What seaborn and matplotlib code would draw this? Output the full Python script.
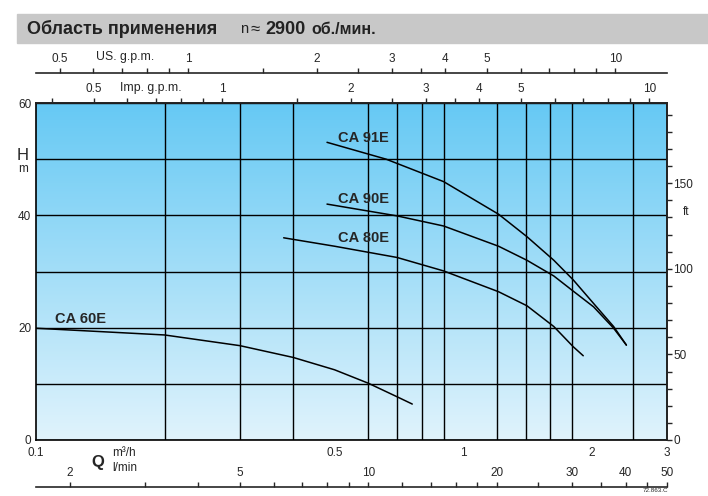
import numpy as np
import pandas as pd
import seaborn as sns
import matplotlib.pyplot as plt
from matplotlib.patches import Rectangle
from matplotlib.colors import LinearSegmentedColormap
from matplotlib.ticker import FixedLocator, NullFormatter, FixedFormatter

# pump curves, Q in m3/h, H in m
q_91 = [0.48, 0.66, 0.90, 1.21, 1.41, 1.63, 1.81, 2.02, 2.25, 2.41]
h_91 = [53.0, 50.0, 46.0, 40.2, 36.2, 32.0, 28.5, 24.3, 20.2, 16.9]
q_90 = [0.48, 0.70, 0.90, 1.21, 1.41, 1.63, 1.81, 2.02, 2.25, 2.41]
h_90 = [42.0, 39.9, 38.1, 34.5, 32.0, 29.2, 26.5, 23.7, 19.9, 16.9]
q_80 = [0.38, 0.50, 0.70, 0.90, 1.21, 1.41, 1.63, 1.81, 1.91]
h_80 = [36.0, 34.5, 32.5, 30.1, 26.4, 23.9, 20.2, 16.6, 15.0]
q_60 = [0.10, 0.20, 0.30, 0.40, 0.50, 0.60, 0.70, 0.76]
h_60 = [19.9, 18.7, 16.8, 14.7, 12.5, 10.1, 7.7, 6.4]
curve_names = ["CA 91E", "CA 90E", "CA 80E", "CA 60E"]

# axis scales
q_ticks = [0.1, 0.5, 1, 2, 3]
q_grid = [0.2, 0.3, 0.4, 0.5, 0.6, 0.7, 0.8, 0.9, 1, 1.2, 1.4, 1.6, 1.8, 2, 2.5]
h_ticks = [0, 20, 40, 60]
h_grid = [10, 30, 50]
ft_labels = [0, 50, 100, 150]
ft_minor = list(range(0, 200, 10))
us_labels = [0.5, 1, 2, 3, 4, 5, 10]
us_minor = [0.6, 0.7, 0.8, 0.9, 1.5, 2.5, 3.5, 6, 7, 8, 9]
imp_labels = [0.5, 1, 2, 3, 4, 5, 10]
imp_minor = [0.4, 0.6, 0.7, 0.8, 0.9, 1.5, 2.5, 3.5, 6, 7, 8, 9]
lmin_labels = [2, 5, 10, 20, 30, 40, 50]
lmin_minor = [3, 4, 6, 7, 8, 9, 12, 14, 16, 18, 25, 35, 45]

US = 4.403     # US gpm per m3/h
IMP = 3.666    # Imp gpm per m3/h
LMIN = 1000 / 60
FT = 3.2808
QMIN, QMAX, HMAX = 0.1, 3.0, 60

sns.set_style("white")
plt.rcParams['font.family'] = ['Liberation Sans', 'DejaVu Sans']
plt.rcParams['font.size'] = 8.5

fig = plt.figure(figsize=(7.08, 4.96), dpi=100)
ax = fig.add_axes([36 / 708, 56 / 496, 631 / 708, 337 / 496])
ax.set_xscale('log')

# background gradient
cmap = LinearSegmentedColormap.from_list("bg", ["#e0f3fc", "#66c9f4"])
grad = np.linspace(0, 1, 256).reshape(-1, 1)
ax.imshow(grad, cmap=cmap, extent=[0, 1, 0, 1], transform=ax.transAxes,
          aspect='auto', origin='lower', zorder=0)

curves = [(q_91, h_91), (q_90, h_90), (q_80, h_80), (q_60, h_60)]
for (q, h), name in zip(curves, curve_names):
    df = pd.DataFrame({"Q": q, "H": h})
    sns.lineplot(data=df, x="Q", y="H", ax=ax, color="black", lw=1.1,
                 zorder=3)

ax.set_xlim(QMIN, QMAX)
ax.set_ylim(0, HMAX)
ax.set_xlabel("")
ax.set_ylabel("")

ax.xaxis.set_major_locator(FixedLocator(q_ticks))
ax.xaxis.set_major_formatter(FixedFormatter([str(v) for v in q_ticks]))
ax.xaxis.set_minor_locator(FixedLocator(q_grid))
ax.xaxis.set_minor_formatter(NullFormatter())
ax.yaxis.set_major_locator(FixedLocator(h_ticks))
ax.yaxis.set_minor_locator(FixedLocator(h_grid))
ax.tick_params(which='both', length=0)
ax.tick_params(axis='x', pad=5, labelsize=8.5)
ax.tick_params(axis='y', pad=3.5, labelsize=8.5)
ax.grid(axis='x', which='minor', color='black', lw=1.0)
ax.grid(axis='y', which='both', color='black', lw=1.0)
for s in ax.spines.values():
    s.set_color('black')
    s.set_linewidth(1.2)

# curve labels
label_pos = [(0.51, 53.8), (0.51, 42.9), (0.51, 36.0), (0.111, 21.6)]
for (x, y), name in zip(label_pos, curve_names):
    ax.text(x, y, name, fontsize=10.5, fontweight='bold', va='center',
            ha='left', zorder=4)


def style_twin(a, keep):
    for k, s in a.spines.items():
        s.set_visible(k == keep)
        s.set_linewidth(1.2)


# Imp g.p.m. on top of the plot
ax_imp = ax.twiny()
ax_imp.set_xscale('log')
ax_imp.set_xlim(QMIN * IMP, QMAX * IMP)
ax_imp.xaxis.set_major_locator(FixedLocator(imp_labels))
ax_imp.xaxis.set_major_formatter(FixedFormatter([str(v) for v in imp_labels]))
ax_imp.xaxis.set_minor_locator(FixedLocator(imp_minor))
ax_imp.xaxis.set_minor_formatter(NullFormatter())
ax_imp.tick_params(which='both', direction='out', length=3.6, width=1, pad=2,
                   labelsize=8.5)
style_twin(ax_imp, 'top')

# US g.p.m. line above
ax_us = ax.twiny()
ax_us.set_xscale('log')
ax_us.set_xlim(QMIN * US, QMAX * US)
ax_us.spines['top'].set_position(('outward', 21.6))
ax_us.xaxis.set_major_locator(FixedLocator(us_labels))
ax_us.xaxis.set_major_formatter(FixedFormatter([str(v) for v in us_labels]))
ax_us.xaxis.set_minor_locator(FixedLocator(us_minor))
ax_us.xaxis.set_minor_formatter(NullFormatter())
ax_us.tick_params(which='both', direction='out', length=3.6, width=1, pad=2,
                  labelsize=8.5)
style_twin(ax_us, 'top')

# l/min line below
ax_l = ax.twiny()
ax_l.set_xscale('log')
ax_l.set_xlim(QMIN * LMIN, QMAX * LMIN)
ax_l.xaxis.set_ticks_position('bottom')
ax_l.xaxis.set_label_position('bottom')
ax_l.spines['bottom'].set_position(('outward', 33.8))
ax_l.xaxis.set_major_locator(FixedLocator(lmin_labels))
ax_l.xaxis.set_major_formatter(FixedFormatter([str(v) for v in lmin_labels]))
ax_l.xaxis.set_minor_locator(FixedLocator(lmin_minor))
ax_l.xaxis.set_minor_formatter(NullFormatter())
ax_l.tick_params(which='both', direction='in', length=3.6, width=1, pad=-14.5,
                 labelsize=8.5)
style_twin(ax_l, 'bottom')

# ft on the right
ax_ft = ax.twinx()
ax_ft.set_ylim(0, HMAX * FT)
ax_ft.yaxis.set_major_locator(FixedLocator(ft_labels))
ax_ft.yaxis.set_minor_locator(FixedLocator(ft_minor))
ax_ft.tick_params(which='both', direction='out', length=3.6, width=1, pad=0.8,
                  labelsize=8.5)
style_twin(ax_ft, 'right')

# axis names
fig.text(96 / 708, 1 - 57 / 496, "US. g.p.m.", fontsize=8.8, va='center')
fig.text(120 / 708, 1 - 88 / 496, "Imp. g.p.m.", fontsize=8.8, va='center')
fig.text(23 / 708, 1 - 155 / 496, "H", fontsize=12, ha='center', va='center')
fig.text(23 / 708, 1 - 169 / 496, "m", fontsize=8.5, ha='center', va='center')
fig.text(686 / 708, 1 - 212 / 496, "ft", fontsize=8.5, ha='center', va='center')
fig.text(98 / 708, 1 - 462 / 496, "Q", fontsize=12, fontweight='bold',
         ha='center', va='center')
fig.text(112 / 708, 1 - 453 / 496, "m³/h", fontsize=8.5, va='center')
fig.text(112 / 708, 1 - 468 / 496, "l/min", fontsize=8.5, va='center')
fig.text(668 / 708, 1 - 491 / 496, "72.863.C", fontsize=4.5, ha='right',
         va='center')

# title bar
fig.patches.append(Rectangle((17 / 708, 1 - 43 / 496), 691 / 708, 28.5 / 496,
                             transform=fig.transFigure, color='#c8c8c8',
                             zorder=0))
tc = '#222222'
fig.text(27 / 708, 1 - 29 / 496, "Область применения", fontsize=13,
         fontweight='bold', color=tc, va='center')
fig.text(240 / 708, 1 - 29 / 496, "n", fontsize=10.5, color=tc, va='center')
fig.text(250 / 708, 1 - 29 / 496, "≈", fontsize=12, color=tc, va='center')
fig.text(265 / 708, 1 - 29 / 496, "2900", fontsize=13, fontweight='bold',
         color=tc, va='center')
fig.text(311 / 708, 1 - 29 / 496, "об./мин.", fontsize=11.5, fontweight='bold',
         color=tc, va='center')

plt.savefig("out.png", dpi=100)
